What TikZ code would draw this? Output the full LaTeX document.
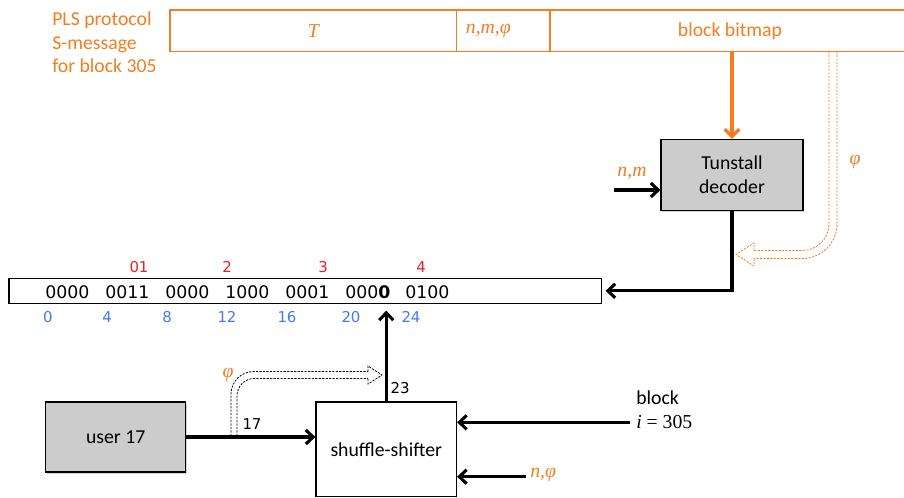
\documentclass[tikz,border=0pt]{standalone}
\usepackage{fontspec}
\setmainfont{Carlito}
\newfontfamily\bitfont{DejaVu Sans}
\newfontfamily\msgserif{Liberation Serif}
\usetikzlibrary{arrows.meta,shadows}

\definecolor{plsorange}{RGB}{245,124,32}
\definecolor{bitred}{RGB}{235,30,35}
\definecolor{bitblue}{RGB}{70,120,240}
\definecolor{boxgray}{RGB}{204,204,204}

\tikzset{
    field/.style={draw=plsorange, line width=1.1pt, minimum height=31.1pt, inner sep=0pt, text=plsorange},
    grayblock/.style={draw, fill=boxgray, line width=0.9pt, align=center,
        drop shadow={shadow xshift=1pt, shadow yshift=-1.2pt, opacity=0.35}},
    whiteblock/.style={draw, fill=white, line width=0.9pt, align=center},
    arr/.style={line width=2.3pt, -{Straight Barb[length=5.5pt,width=10.5pt]}},
    plsarrow/.style={draw=plsorange, line width=2.5pt, -{Straight Barb[length=5.5pt,width=11pt]}},
    philine/.style={line width=0.6pt, dash pattern=on 1.6pt off 1pt},
    hollowhead/.style={line width=0.6pt, dash pattern=on 1.6pt off 1pt, line join=miter},
    bitsmall/.style={font=\bitfont\fontsize{11.2}{13}\selectfont, inner sep=0pt},
}

\begin{document}
\begin{tikzpicture}[x=0.75pt, y=-0.75pt, font=\fontsize{14.8}{17.7}\selectfont]
    \useasboundingbox (0,0) rectangle (904,497);

    % S-message
    \node[align=left, anchor=west, text=plsorange, inner sep=0pt] (plslabel) at (52,42.5) {PLS protocol\\S-message\\for block 305};
    \node[field, minimum width=214.9pt] (ftime) at (313.25,30.75) {\msgserif\itshape T};
    \node[field, minimum width=70.1pt, text width=56pt, align=left] (fparam) at (503.25,30.75) {\msgserif\itshape n,m,φ};
    \node[field, minimum width=270pt] (fbitmap) at (730,30.75) {block bitmap};

    % decoder
    \node[grayblock, minimum width=106.5pt, minimum height=53.3pt] (tunstall) at (732,175) {Tunstall\\decoder};
    \draw[plsarrow] (tunstall.north |- fbitmap.south) -- (tunstall.north);

    \coordinate (nmin) at (614,190);
    \draw[arr] (nmin) -- (nmin -| tunstall.west);
    \node[text=plsorange] (nmlabel) at (632,173) {\msgserif\itshape n,m};

    % bit string
    \node[draw, line width=0.9pt, minimum width=444.5pt, minimum height=18.75pt, inner sep=0pt] (bits) at (305.35,290.8) {};
    \foreach \grp [count=\k from 0] in {0000,0011,0000,1000,0001,000\textbf{0},0100}
        \node[anchor=west, inner sep=0pt, font=\bitfont\fontsize{13}{15}\selectfont] (g\k) at (45+60*\k,292) {\grp};
    \foreach \lab/\xx [count=\k] in {0/48,4/107,8/167,12/227,16/287,20/351,24/411}
        \node[bitsmall, text=bitblue] (idx\k) at (\xx,316.7) {\lab};
    \foreach \lab/\xx [count=\k] in {01/139,2/227,3/323,4/421}
        \node[bitsmall, text=bitred] (sym\k) at (\xx,267) {\lab};

    \draw[arr, shorten >=2.5pt] (tunstall.south) |- (bits.east);

    % phi from the message
    \coordinate (phiouter) at (837,51.5);
    \coordinate (phiinner) at (829,51.5);
    \draw[philine, draw=plsorange] (phiinner) -- (phiouter);
    \draw[philine, draw=plsorange, rounded corners=26pt] (phiouter) -- (837,258.5) -- (754,258.5);
    \draw[philine, draw=plsorange, rounded corners=20pt] (phiinner) -- (829,250.5) -- (754,250.5);
    \draw[hollowhead, draw=plsorange] (754,250.5) -- (754,243) -- (736,254.5) -- (754,266) -- (754,258.5);
    \node[text=plsorange] (phimsg) at (855,162) {\msgserif\itshape φ};

    % shuffle-shifter
    \node[grayblock, minimum width=105pt, minimum height=52.5pt] (user) at (115.7,437) {user 17};
    \node[whiteblock, minimum width=105.4pt, minimum height=70.9pt] (shuffle) at (386.25,449.25) {shuffle-shifter};

    \draw[arr] (user.east) -- (shuffle.west |- user.east);
    \draw[arr, shorten >=5pt] (shuffle.north) -- (shuffle.north |- bits.south);
    \node[bitsmall] (outpos) at (400,388) {23};
    \node[bitsmall] (inpos) at (252,424) {17};

    \coordinate (splitl) at (231,436);
    \coordinate (splitr) at (237,436);
    \draw[philine, rounded corners=17pt] (splitl) -- (231,371.5) -- (368,371.5);
    \draw[philine, rounded corners=13pt] (splitr) -- (237,378.5) -- (368,378.5);
    \draw[hollowhead] (368,371.5) -- (368,366) -- (382,375) -- (368,384) -- (368,378.5);
    \node[text=plsorange] (phiuser) at (228,375) {\msgserif\itshape φ};

    \coordinate (blockin) at (630,422.3);
    \draw[arr] (blockin) -- (blockin -| shuffle.east);
    \node[align=left, anchor=west, inner sep=0pt] (blocklabel) at (636,409.5) {block\\{\msgserif\itshape i\/ \upshape = 305}};

    \coordinate (nphiin) at (526,476.7);
    \draw[arr] (nphiin) -- (nphiin -| shuffle.east);
    \node[anchor=west, text=plsorange, inner sep=0pt] (nphilabel) at (530,475) {\msgserif\itshape n,φ};
\end{tikzpicture}
\end{document}
